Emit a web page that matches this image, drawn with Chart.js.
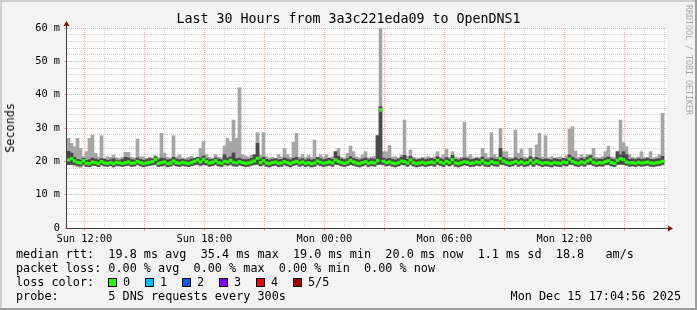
<!DOCTYPE html>
<html>
<head>
<meta charset="utf-8">
<script src="https://cdn.jsdelivr.net/npm/chart.js@4.4.1/dist/chart.umd.min.js"></script>
<style>
  body { margin: 0; background: #f3f3f3; }
  #wrap { position: relative; width: 697px; height: 310px; font-family: "DejaVu Sans Mono", monospace; color: #000; }
  #wrap canvas { position: absolute; left: 0; top: 0; }
  .t { position: absolute; white-space: pre; line-height: 14px; font-size: 11.8px; }
  .box { position: absolute; width: 7px; height: 7px; border: 1px solid #000; top: 278px; }
</style>
</head>
<body>
<div id="wrap">
  <canvas id="chart" width="697" height="310"></canvas>
  <div class="t" style="left:0;width:697px;text-align:center;top:12px;font-size:13.3px">Last 30 Hours from 3a3c221eda09 to OpenDNS1</div>
  <div class="t" style="left:3px;top:103px;width:14px;writing-mode:vertical-rl;transform:rotate(180deg)">Seconds</div>
  <div class="t" style="left:684px;top:5px;width:9px;font-size:8.3px;line-height:9px;color:#a8a8a8;writing-mode:vertical-rl">RRDTOOL / TOBI OETIKER</div>
  <div class="t" style="left:16px;top:247px">median rtt:  19.8 ms avg  35.4 ms max  19.0 ms min  20.0 ms now  1.1 ms sd  18.8   am/s</div>
  <div class="t" style="left:16px;top:261px">packet loss: 0.00 % avg  0.00 % max  0.00 % min  0.00 % now</div>
  <div class="t" style="left:16px;top:275px">loss color:</div>
  <div id="losskey"></div>
  <div class="t" style="left:16px;top:289px">probe:       5 DNS requests every 300s</div>
  <div class="t" style="right:16px;top:289px">Mon Dec 15 17:04:56 2025</div>
</div>
<script>
// time axis: hours since Sun 00:00, one sample every 9 minutes
const startHour = 11 + 8 / 60;
const spanHours = 30;
const stepHours = 0.15;
const tickHours = [12, 18, 24, 30, 36];
const tickLabels = ["Sun 12:00", "Sun 18:00", "Mon 00:00", "Mon 06:00", "Mon 12:00"];

// loss colour legend
const lossLabels = ["0", "1", "2", "3", "4", "5/5"];
const lossColors = ["#26ff00", "#00b8ff", "#0059ff", "#7e00ff", "#ff0000", "#a00000"];

// median rtt (ms)
const med = [
  20.4, 20.8, 20.1, 19.7, 19.5, 20.2, 19.4, 19.3, 19.8, 19.6, 19.3, 19.9, 19.5, 19.4, 19.6, 19.3, 19.7, 19.5, 19.4, 19.6,
  19.8, 19.4, 19.5, 20.0, 19.6, 19.3, 19.5, 19.7, 19.9, 20.6, 19.4, 19.6, 19.8, 19.3, 19.5, 20.1, 19.6, 19.4, 19.7, 19.5,
  19.3, 19.6, 20.0, 20.4, 19.8, 20.6, 19.9, 19.5, 19.7, 20.2, 19.6, 19.4, 20.0, 19.8, 20.3, 19.7, 19.5, 19.9, 19.6, 19.4,
  19.5, 19.8, 20.1, 20.9, 19.6, 20.2, 19.5, 19.3, 19.6, 19.8, 19.4, 19.5, 19.9, 19.6, 19.3, 19.7, 20.0, 19.5, 19.8, 19.4,
  19.6, 19.3, 19.5, 20.1, 19.7, 19.4, 19.6, 19.8, 19.5, 20.4, 20.0, 19.6, 19.4, 19.7, 20.3, 19.8, 19.5, 19.3, 19.6, 19.9,
  19.4, 19.7, 19.5, 20.2, 35.4, 20.0, 19.6, 19.8, 19.5, 19.3, 19.6, 20.1, 19.9, 19.5, 20.4, 19.6, 19.3, 19.5, 19.7, 19.4,
  19.6, 19.8, 19.5, 20.3, 19.7, 19.4, 20.0, 19.6, 20.5, 19.5, 19.3, 19.6, 19.9, 19.7, 19.4, 19.5, 19.8, 19.6, 20.2, 19.5,
  19.4, 19.9, 19.6, 19.5, 20.8, 20.1, 19.7, 19.4, 19.6, 20.0, 19.5, 19.8, 19.4, 19.6, 20.3, 19.5, 20.1, 19.7, 19.4, 19.6,
  19.5, 19.3, 19.7, 19.5, 19.4, 19.8, 19.6, 20.7, 20.0, 19.6, 19.4, 19.8, 19.5, 20.1, 20.6, 19.7, 19.4, 19.6, 19.5, 19.9,
  20.2, 19.6, 19.4, 20.3, 20.8, 20.5, 19.8, 19.5, 19.6, 19.4, 19.7, 19.5, 19.6, 19.8, 19.5, 19.4, 19.6, 19.7, 20.0
];

// fastest ping per step (ms)
const lo = [
  18.9, 19.1, 18.6, 18.4, 18.2, 18.8, 18.5, 18.3, 18.6, 18.7, 18.4, 18.8, 18.6, 18.5, 18.7, 18.2, 18.6, 18.8, 18.5, 18.6,
  18.7, 18.4, 18.6, 18.9, 18.5, 18.3, 18.6, 18.7, 18.8, 19.2, 18.4, 18.5, 18.7, 18.3, 18.6, 18.8, 18.5, 18.4, 18.6, 18.7,
  18.4, 18.6, 18.8, 19.0, 18.5, 18.9, 18.7, 18.4, 18.6, 18.9, 18.5, 18.3, 18.8, 18.6, 18.9, 18.5, 18.4, 18.7, 18.5, 18.3,
  18.4, 18.7, 18.9, 19.2, 18.5, 18.8, 18.4, 18.2, 18.5, 18.7, 18.3, 18.4, 18.8, 18.5, 18.2, 18.6, 18.8, 18.4, 18.7, 18.3,
  18.5, 18.2, 18.4, 18.9, 18.6, 18.3, 18.5, 18.7, 18.4, 19.1, 18.8, 18.5, 18.3, 18.6, 18.9, 18.7, 18.4, 18.2, 18.5, 18.8,
  18.3, 18.6, 18.4, 18.9, 19.5, 18.8, 18.5, 18.7, 18.4, 18.2, 18.5, 18.9, 18.8, 18.4, 19.0, 18.5, 18.2, 18.4, 18.6, 18.3,
  18.5, 18.7, 18.4, 19.0, 18.6, 18.3, 18.8, 18.5, 19.1, 18.4, 18.2, 18.5, 18.8, 18.6, 18.3, 18.4, 18.7, 18.5, 18.9, 18.4,
  18.3, 18.8, 18.5, 18.4, 19.3, 18.9, 18.6, 18.3, 18.5, 18.9, 18.4, 18.7, 18.3, 18.5, 19.0, 18.4, 18.9, 18.6, 18.3, 18.5,
  18.4, 18.2, 18.6, 18.4, 18.3, 18.7, 18.5, 19.2, 18.9, 18.5, 18.3, 18.7, 18.4, 18.9, 19.1, 18.6, 18.3, 18.5, 18.4, 18.8,
  18.9, 18.5, 18.3, 19.0, 19.3, 19.1, 18.7, 18.4, 18.5, 18.3, 18.6, 18.4, 18.5, 18.7, 18.4, 18.3, 18.5, 18.6, 18.9
];

// slowest ping per step (ms)
const hi = [
  26.9, 25.4, 24.4, 26.9, 23.9, 21.5, 22.9, 26.9, 27.9, 22.4, 21.3, 27.7, 21.0, 21.4, 21.2, 21.9, 21.1, 20.9, 21.3, 22.7,
  22.7, 21.2, 21.0, 26.7, 21.3, 21.4, 20.9, 21.2, 21.0, 21.7, 21.1, 28.4, 22.4, 21.2, 21.0, 27.7, 21.3, 21.9, 21.1, 20.9,
  21.2, 21.5, 21.0, 21.3, 23.9, 25.9, 22.0, 21.2, 21.0, 22.0, 21.3, 21.1, 24.6, 26.9, 25.9, 32.4, 26.9, 42.1, 22.0, 21.6,
  21.3, 21.8, 21.5, 28.6, 21.9, 28.6, 21.4, 21.0, 21.2, 20.9, 22.0, 21.3, 23.9, 22.0, 21.2, 25.7, 28.4, 21.3, 22.0, 21.1,
  21.8, 21.2, 26.4, 21.0, 22.0, 21.3, 22.0, 21.1, 21.4, 22.9, 23.9, 21.2, 21.0, 22.4, 24.6, 22.9, 21.3, 21.0, 22.0, 22.9,
  21.1, 21.3, 21.5, 27.7, 59.9, 22.9, 22.9, 24.7, 21.3, 21.4, 21.0, 21.9, 32.4, 21.5, 23.4, 21.2, 21.0, 20.9, 21.2, 21.1,
  21.4, 21.0, 21.3, 22.9, 21.2, 21.9, 23.7, 21.1, 22.9, 21.3, 21.0, 21.2, 31.7, 21.4, 22.0, 21.0, 21.3, 21.1, 23.9, 22.4,
  21.2, 28.6, 22.0, 21.3, 29.9, 22.9, 22.9, 21.2, 21.0, 29.4, 22.4, 23.7, 21.3, 21.1, 23.9, 21.2, 24.9, 28.4, 21.3, 27.7,
  21.1, 21.4, 21.0, 21.2, 21.3, 21.0, 21.7, 29.7, 30.4, 23.1, 21.2, 22.0, 21.3, 22.0, 22.0, 23.9, 21.2, 21.0, 21.4, 22.9,
  24.6, 21.3, 21.1, 22.9, 32.4, 25.6, 24.4, 22.0, 21.2, 21.0, 21.3, 22.9, 21.1, 21.2, 22.9, 21.0, 21.3, 22.0, 34.4
];

// top of the dense (dark) part of the smoke (ms)
const dk = [
  23.0, 22.5, 21.2, 20.6, 20.4, 20.9, 20.3, 20.5, 21.0, 20.7, 20.4, 20.8, 20.6, 20.3, 20.5, 20.8, 20.4, 20.2, 20.6, 21.2,
  21.0, 20.5, 20.4, 21.0, 20.6, 20.3, 20.5, 20.8, 20.7, 21.4, 20.5, 21.0, 20.8, 20.4, 20.6, 21.2, 20.7, 20.5, 20.6, 20.4,
  20.4, 20.7, 20.9, 21.2, 21.0, 21.6, 20.8, 20.5, 20.6, 21.0, 20.7, 20.5, 22.0, 21.0, 21.3, 22.5, 20.8, 21.0, 20.6, 20.5,
  20.6, 20.9, 22.0, 25.4, 20.7, 21.2, 20.6, 20.4, 20.6, 20.8, 20.5, 20.6, 21.0, 20.7, 20.4, 20.9, 21.2, 20.5, 20.8, 20.4,
  20.7, 20.4, 20.6, 21.2, 20.8, 20.5, 20.7, 20.9, 20.6, 22.9, 21.5, 20.7, 20.5, 20.8, 21.4, 20.9, 20.6, 20.4, 20.7, 21.0,
  20.5, 20.8, 20.6, 27.7, 36.4, 21.0, 20.7, 20.9, 20.6, 20.4, 20.7, 21.2, 21.8, 20.6, 21.5, 20.7, 20.4, 20.6, 20.8, 20.5,
  20.7, 20.9, 20.6, 21.4, 20.8, 20.5, 21.1, 20.7, 21.8, 20.6, 20.4, 20.7, 21.0, 20.8, 20.5, 20.6, 20.9, 20.7, 21.3, 20.6,
  20.5, 21.0, 20.7, 20.6, 23.9, 21.2, 20.8, 20.5, 20.7, 21.1, 20.6, 20.9, 20.5, 20.7, 21.4, 20.6, 21.2, 20.8, 20.5, 20.7,
  20.6, 20.4, 20.8, 20.6, 20.5, 20.9, 20.7, 21.9, 21.2, 20.7, 20.5, 20.9, 20.6, 21.2, 21.7, 20.8, 20.5, 20.7, 20.6, 21.0,
  21.3, 20.7, 20.5, 22.9, 21.9, 22.9, 22.0, 20.6, 20.7, 20.5, 20.8, 20.6, 20.7, 20.9, 20.6, 20.5, 20.7, 20.8, 21.5
];

const times = med.map((m, i) => startHour + stepHours * (i + 0.5));

// loss colour boxes
const losskey = document.getElementById("losskey");
lossLabels.forEach((lab, k) => {
  const b = document.createElement("span");
  b.className = "box";
  b.style.left = (108 + 37 * k) + "px";
  b.style.background = lossColors[k];
  losskey.appendChild(b);
  const t = document.createElement("span");
  t.className = "t";
  t.style.left = (123 + 37 * k) + "px";
  t.style.top = "275px";
  t.textContent = lab;
  losskey.appendChild(t);
});

const MAJOR = "rgba(255, 110, 110, 0.6)";
const MINOR = "rgba(150, 150, 150, 0.45)";

const frame = {
  id: "frame",
  beforeDraw(chart) {
    const { ctx, chartArea: a, width, height } = chart;
    ctx.save();
    ctx.fillStyle = "#f3f3f3";
    ctx.fillRect(0, 0, width, height);
    ctx.fillStyle = "#cfcfcf";
    ctx.fillRect(0, 0, width, 2);
    ctx.fillRect(0, 0, 2, height);
    ctx.fillStyle = "#9e9e9e";
    ctx.fillRect(0, height - 2, width, 2);
    ctx.fillRect(width - 2, 0, 2, height);
    ctx.fillStyle = "#ffffff";
    ctx.fillRect(a.left, a.top, a.right - a.left, a.bottom - a.top);
    ctx.restore();
  },
  afterDraw(chart) {
    const { ctx, chartArea: a } = chart;
    const x0 = a.left - 0.5, y0 = a.bottom + 0.5;
    ctx.save();
    ctx.strokeStyle = "#404040";
    ctx.lineWidth = 1;
    ctx.beginPath();
    ctx.moveTo(x0, y0);
    ctx.lineTo(x0, a.top - 3);
    ctx.moveTo(x0, y0);
    ctx.lineTo(a.right + 2, y0);
    ctx.stroke();
    ctx.fillStyle = "#8b1010";
    ctx.beginPath();
    ctx.moveTo(x0, a.top - 7);
    ctx.lineTo(x0 - 3, a.top - 2);
    ctx.lineTo(x0 + 3, a.top - 2);
    ctx.fill();
    ctx.beginPath();
    ctx.moveTo(a.right + 6, y0);
    ctx.lineTo(a.right + 1, y0 - 3);
    ctx.lineTo(a.right + 1, y0 + 3);
    ctx.fill();
    ctx.restore();
  },
};

const barCommon = { barPercentage: 1, categoryPercentage: 1, grouped: false, borderWidth: 0 };

const tickFont = { family: "DejaVu Sans Mono", size: 10.3 };

new Chart(document.getElementById("chart"), {
  type: "bar",
  data: {
    datasets: [
      Object.assign({
        label: "median rtt",
        order: 0,
        backgroundColor: "#26ff00",
        data: times.map((t, i) => ({ x: t, y: [med[i] - 0.37, med[i] + 0.37] })),
      }, barCommon),
      Object.assign({
        label: "smoke dense",
        order: 1,
        backgroundColor: "#4a4a4a",
        data: times.map((t, i) => ({ x: t, y: [Math.min(med[i], 20) - 0.9, dk[i]] })),
      }, barCommon),
      Object.assign({
        label: "smoke",
        order: 2,
        backgroundColor: "#a6a6a6",
        data: times.map((t, i) => ({ x: t, y: [lo[i], hi[i]] })),
      }, barCommon),
    ],
  },
  options: {
    responsive: false,
    animation: false,
    layout: { padding: { left: 0, top: 28, right: 30, bottom: 0 } },
    plugins: { legend: { display: false }, tooltip: { enabled: false }, title: { display: false } },
    scales: {
      x: {
        type: "linear",
        min: startHour,
        max: startHour + spanHours,
        offset: false,
        afterBuildTicks: (s) => {
          const arr = [];
          for (let h = Math.ceil(startHour); h <= startHour + spanHours; h++) arr.push({ value: h });
          s.ticks = arr;
        },
        afterFit: (s) => { s.height = 82; },
        grid: {
          offset: false,
          lineWidth: 1,
          tickLength: 3,
          color: (c) => (c.tick && c.tick.value % 3 === 0 ? MAJOR : MINOR),
          tickColor: (c) => (c.tick && c.tick.value % 3 === 0 ? MAJOR : "rgba(0,0,0,0)"),
        },
        border: { display: false, dash: [1, 1] },
        ticks: {
          autoSkip: false,
          maxRotation: 0,
          padding: 2,
          color: "#000",
          font: tickFont,
          callback: (v) => {
            const k = tickHours.indexOf(v);
            return k >= 0 ? tickLabels[k] : "";
          },
        },
      },
      y: {
        min: 0,
        max: 60,
        afterBuildTicks: (s) => {
          const arr = [];
          for (let v = 0; v <= 60; v += 2) arr.push({ value: v });
          s.ticks = arr;
        },
        afterFit: (s) => { s.width = 67; },
        grid: {
          lineWidth: 1,
          tickLength: 3,
          color: (c) => (c.tick && c.tick.value % 10 === 0 ? MAJOR : MINOR),
          tickColor: (c) => (c.tick && c.tick.value % 10 === 0 ? MAJOR : "rgba(0,0,0,0)"),
        },
        border: { display: false, dash: [1, 1] },
        ticks: {
          autoSkip: false,
          padding: 4,
          color: "#000",
          font: tickFont,
          callback: (v) => (v % 10 === 0 ? (v === 0 ? "0" : v + " m") : ""),
        },
      },
    },
  },
  plugins: [frame],
});
</script>
</body>
</html>
